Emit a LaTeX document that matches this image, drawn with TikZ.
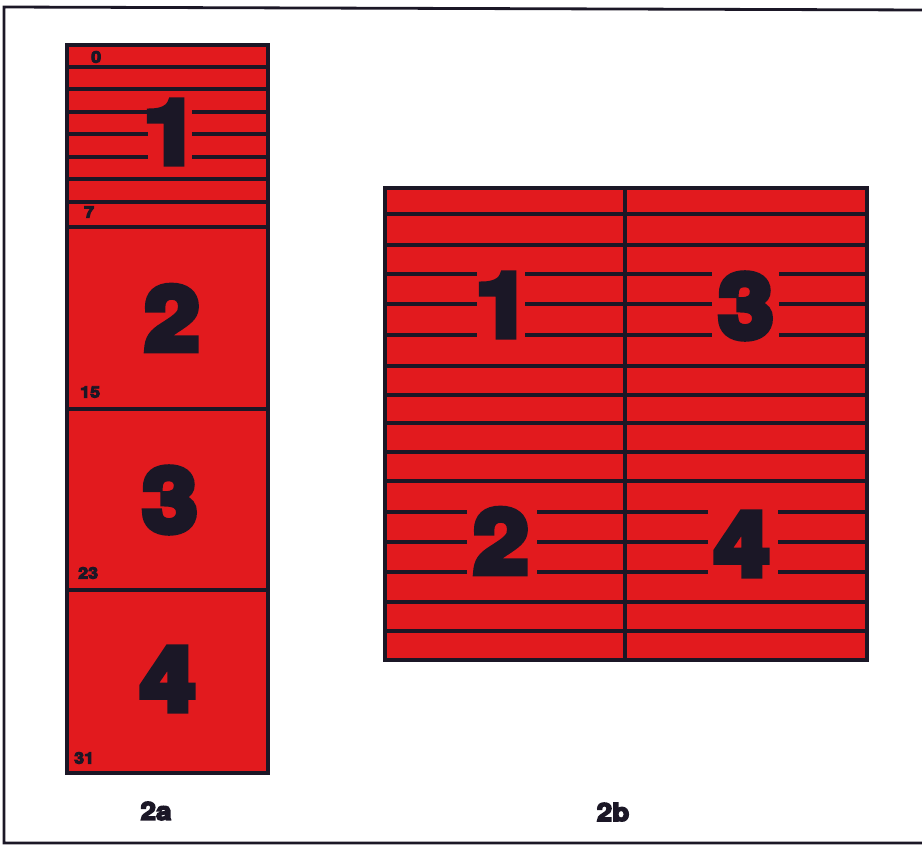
\documentclass[tikz,border=0pt]{standalone}
\usepackage{fontspec}
\usepackage{xcolor}
\usepackage{tikz}
\usetikzlibrary{positioning}
\newfontfamily\heavyfont{TeX Gyre Heros}[BoldFeatures={FakeBold=8,FakeStretch=1.12}]
\newfontfamily\smallheavy{TeX Gyre Heros}[BoldFeatures={FakeBold=6,FakeStretch=1.12}]
\definecolor{stripred}{HTML}{E21A1E}
\definecolor{inkline}{HTML}{1B1726}

\begin{document}
\begin{tikzpicture}[x=1pt,y=-1pt,
    panel/.style={fill=stripred,draw=inkline,line width=3.4pt},
    rule/.style={draw=inkline,line width=3.2pt},
    split/.style={draw=inkline,line width=4.4pt},
    bignum/.style={font=\heavyfont\bfseries\fontsize{88}{88}\selectfont,text=inkline,inner sep=0pt},
    rowno/.style={font=\smallheavy\bfseries\fontsize{16}{16}\selectfont,text=inkline,inner sep=0pt,anchor=west},
    caption/.style={font=\smallheavy\bfseries\fontsize{25}{25}\selectfont,text=inkline,inner sep=0pt},
  ]
    \useasboundingbox (0,0) rectangle (922,849);
    \draw[inkline,line width=2.8pt] (925,10) -- (4,7) -- (4,843) -- (925,843);

    % 2a
    \draw[panel] (67,45) rectangle (268,773);
    \draw[rule] (67,67) -- (268,67) (67,89) -- (268,89);
    \draw[rule] (67,112) -- (148,112) (192,112) -- (268,112);
    \draw[rule] (67,134) -- (148,134) (192,134) -- (268,134);
    \draw[rule] (67,157) -- (148,157) (192,157) -- (268,157);
    \draw[rule] (67,179) -- (268,179) (67,202) -- (268,202);
    \draw[rule] (67,227) -- (268,227) (67,409) -- (268,409) (67,590) -- (268,590);
    \draw[panel,fill=none] (67,45) rectangle (268,773);

    \node[bignum] (a1) at (171,132) {1};
    \node[bignum] (a2) at (172,318) {2};
    \node[bignum] (a3) at (170,500) {3};
    \node[bignum] (a4) at (168,679) {4};
    \node[rowno] (r0) at (91,57) {0};
    \node[rowno] (r7) at (84,212) {7};
    \node[rowno] (r15) at (80,392) {15};
    \node[rowno] (r23) at (78,573) {23};
    \node[rowno] (r31) at (74,758) {31};
    \node[caption] (capa) at (156,811) {2a};

    % 2b
    \draw[panel] (385,188) rectangle (867,660);
    \draw[rule] (385,214) -- (867,214) (385,245) -- (867,245);
    \draw[rule] (385,274) -- (477,274) (525,274) -- (712,274) (779,274) -- (867,274);
    \draw[rule] (385,304) -- (477,304) (525,304) -- (712,304) (779,304) -- (867,304);
    \draw[rule] (385,335) -- (477,335) (525,335) -- (712,335) (779,335) -- (867,335);
    \draw[rule] (385,366) -- (867,366) (385,395) -- (867,395);
    \draw[rule] (385,452) -- (867,452) (385,481) -- (867,481);
    \draw[rule] (385,512) -- (467,512) (537,512) -- (708,512) (778,512) -- (867,512);
    \draw[rule] (385,542) -- (467,542) (537,542) -- (708,542) (778,542) -- (867,542);
    \draw[rule] (385,572) -- (467,572) (537,572) -- (708,572) (778,572) -- (867,572);
    \draw[rule] (385,602) -- (867,602) (385,631) -- (867,631);
    \draw[split] (385,423) -- (867,423);
    \draw[split] (625,188) -- (625,660);
    \draw[panel,fill=none] (385,188) rectangle (867,660);

    \node[bignum] (b1) at (503,305) {1};
    \node[bignum] (b3) at (746,306) {3};
    \node[bignum] (b2) at (501,541) {2};
    \node[bignum] (b4) at (742,544) {4};
    \node[caption] (capb) at (613,812) {2b};
  \end{tikzpicture}
\end{document}
